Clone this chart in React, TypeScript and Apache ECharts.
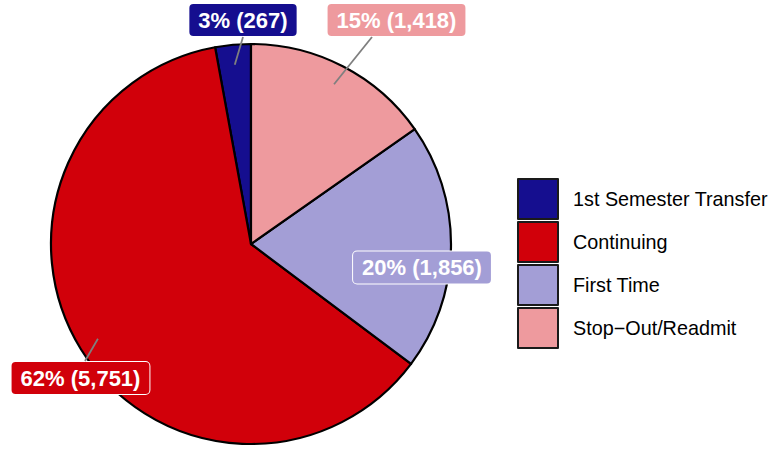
import React, { useEffect, useRef } from 'react';
import * as echarts from 'echarts';

const categories = ['1st Semester Transfer', 'Continuing', 'First Time', 'Stop\u2212Out/Readmit'];
const counts = [267, 5751, 1856, 1418];
const colors = ['#150E8F', '#D1000A', '#A39ED6', '#EE9A9E'];

// layout: label box centres, leader-line end points (null = no leader line)
const labelCenters = [[243, 20], [80.5, 378], [422, 267.5], [396.5, 20]];
const leaderEnds: (number[] | null)[] = [[243, 37], [85, 361], null, [372, 37]];

const CENTER = [251, 244];
const RADIUS = 200;
const total = counts.reduce((a, b) => a + b, 0);

export default function App() {
  const ref = useRef<HTMLDivElement>(null);
  useEffect(() => {
    if (!ref.current) return;
    const chart = echarts.init(ref.current, null, { renderer: 'svg' });

    // leader-line start points: slice mid-angle at 0.9 R (counter-clockwise from top)
    let cum = 0;
    const leaderStarts = counts.map((c) => {
      const mid = ((cum + c / 2) / total) * Math.PI * 2;
      cum += c;
      const r = RADIUS * 0.9;
      return [CENTER[0] - r * Math.sin(mid), CENTER[1] - r * Math.cos(mid)];
    });

    const lines = categories
      .map((_, i) => {
        const e = leaderEnds[i];
        if (!e) return null;
        const s = leaderStarts[i];
        return {
          type: 'line',
          z: 100,
          silent: true,
          shape: { x1: s[0], y1: s[1], x2: e[0], y2: e[1] },
          style: { stroke: '#7f7f7f', lineWidth: 1.8 },
        };
      })
      .filter(Boolean);

    chart.setOption({
      animation: false,
      backgroundColor: '#fff',
      graphic: lines,
      legend: {
        orient: 'vertical',
        left: 517,
        top: 178,
        padding: 0,
        itemWidth: 40,
        itemHeight: 40,
        itemGap: 1,
        icon: 'rect',
        selectedMode: false,
        data: categories,
        itemStyle: { borderColor: '#1a1a1a', borderWidth: 2 },
        textStyle: {
          fontFamily: 'Liberation Sans',
          fontSize: 19.8,
          color: '#000',
          padding: [0, 0, 0, 10],
        },
      },
      series: [
        {
          type: 'pie',
          center: CENTER,
          radius: RADIUS,
          startAngle: 90,
          clockwise: false,
          avoidLabelOverlap: false,
          emphasis: { disabled: true },
          itemStyle: { borderColor: '#000', borderWidth: 2.2 },
          data: categories.map((name, i) => ({
            name,
            value: counts[i],
            itemStyle: { color: colors[i] },
            label: { backgroundColor: colors[i] },
          })),
          label: {
            show: true,
            position: 'outside',
            formatter: (p: any) =>
              `${Math.round((p.value / total) * 100)}% (${Number(p.value).toLocaleString('en-US')})`,
            color: '#fff',
            fontWeight: 'bold',
            fontSize: 22,
            lineHeight: 24,
            fontFamily: 'Liberation Sans',
            padding: [4, 9, 4, 9],
            borderColor: '#fff',
            borderWidth: 1,
            borderRadius: 4,
          },
          labelLine: { show: false },
          labelLayout: (params: any) => {
            const i = params.dataIndex;
            return {
              x: labelCenters[i][0],
              y: labelCenters[i][1],
              align: 'center',
              verticalAlign: 'middle',
            };
          },
        },
      ],
    });
    return () => chart.dispose();
  }, []);
  return (
    <div
      ref={ref}
      style={{ position: 'fixed', left: 0, top: 0, width: 783, height: 452 }}
    />
  );
}
